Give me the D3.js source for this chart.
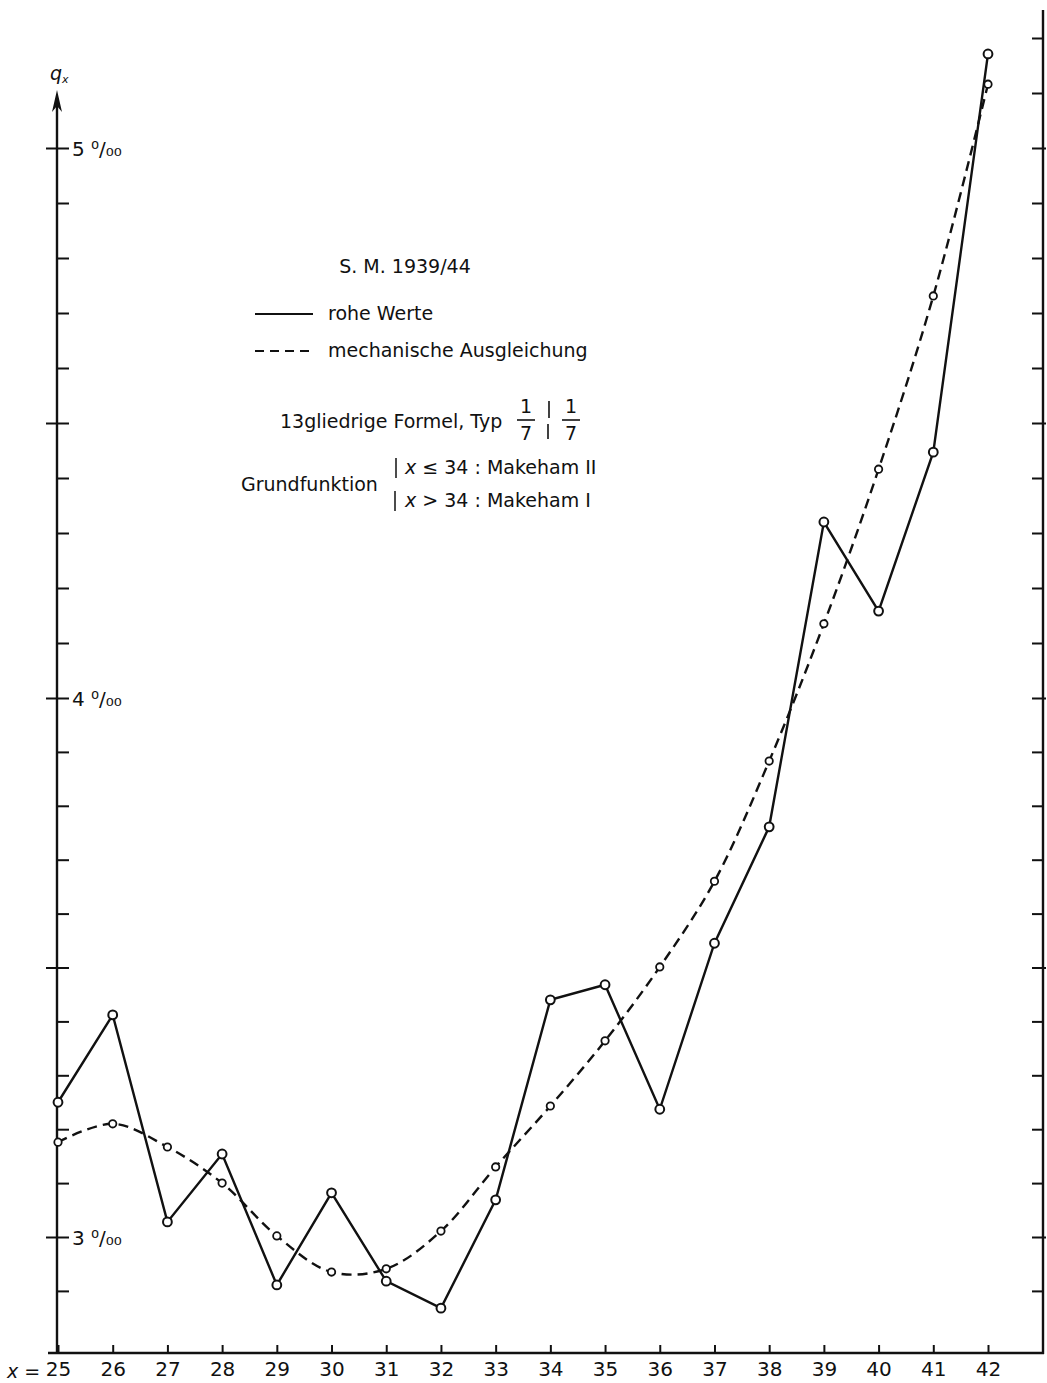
<!DOCTYPE html>
<html>
<head>
<meta charset="utf-8">
<script src="https://cdn.jsdelivr.net/npm/d3@7"></script>
<style>
  body { margin: 0; background: #fff; }
  svg { display: block; }
  text { font-family: "DejaVu Sans", sans-serif; fill: #111; }
  .tick line { stroke: #111; stroke-width: 2; }
</style>
</head>
<body>
<div id="chart"></div>
<script>
// ages x and mortality rates q_x (per mille)
const ages = d3.range(25, 43);
const roheWerte = [3.250, 3.412, 3.028, 3.154, 2.911, 3.082, 2.918, 2.868, 3.069,
                   3.440, 3.468, 3.237, 3.545, 3.761, 4.320, 4.158, 4.447, 5.171];
const ausgleichung = [3.176, 3.210, 3.167, 3.100, 3.002, 2.935, 2.941, 3.011, 3.130,
                      3.243, 3.364, 3.501, 3.660, 3.883, 4.135, 4.416, 4.731, 5.116];
const yLabels = [3, 4, 5];
const leftTicks = d3.range(29, 51).map(d => d / 10);
const rightTicks = d3.range(29, 53).map(d => d / 10);

const W = 1047, H = 1383;
const svg = d3.select("#chart").append("svg")
    .attr("width", W)
    .attr("height", H);

// scales (printed scale is a little uneven, so piecewise)
const x = d3.scaleLinear().domain([25, 42]).range([58, 988]);
const y = d3.scaleLinear().domain([3, 4, 5]).range([1237, 698, 148]);

const axisY0 = 57, axisYR = 1043, axisX0 = 1353;
const isMajor = v => Math.abs(v * 2 - Math.round(v * 2)) < 1e-6;

// frame lines
svg.append("line")
    .attr("x1", axisY0).attr("x2", axisY0)
    .attr("y1", axisX0 + 1).attr("y2", 104)
    .attr("stroke", "#111").attr("stroke-width", 2.4);
svg.append("path")
    .attr("d", `M${axisY0},90 L${axisY0 - 5},112 L${axisY0},106 L${axisY0 + 5},112 Z`)
    .attr("fill", "#111");
svg.append("line")
    .attr("x1", axisYR).attr("x2", axisYR)
    .attr("y1", axisX0 + 1).attr("y2", 10)
    .attr("stroke", "#111").attr("stroke-width", 2.4);
svg.append("line")
    .attr("x1", 48).attr("x2", axisYR + 1)
    .attr("y1", axisX0).attr("y2", axisX0)
    .attr("stroke", "#111").attr("stroke-width", 2.6);

// left axis, ticks pointing inward
const gLeft = svg.append("g")
    .attr("transform", "translate(" + axisY0 + ",0)")
    .call(d3.axisRight(y).tickValues(leftTicks).tickSize(12).tickFormat(""));
gLeft.select(".domain").remove();
gLeft.selectAll(".tick line").filter(isMajor).attr("x1", -11);

// right axis
const gRight = svg.append("g")
    .attr("transform", "translate(" + axisYR + ",0)")
    .call(d3.axisLeft(y).tickValues(rightTicks).tickSize(11).tickFormat(""));
gRight.select(".domain").remove();
gRight.selectAll(".tick line").filter(isMajor).attr("x1", 3);

// bottom axis
const gBottom = svg.append("g")
    .attr("transform", "translate(0," + axisX0 + ")")
    .call(d3.axisBottom(x).tickValues(ages).tickSizeInner(-8).tickSizeOuter(0).tickPadding(9));
gBottom.select(".domain").remove();
gBottom.selectAll(".tick text")
    .style("font-size", "20px")
    .style("font-family", "'DejaVu Sans', sans-serif")
    .attr("fill", "#111");

svg.append("text")
    .attr("x", 7).attr("y", 1378)
    .style("font-size", "19px")
    .html('<tspan font-style="italic">x</tspan> =');

// y labels
svg.selectAll(".ylab")
    .data(yLabels)
    .enter().append("text")
    .attr("class", "ylab")
    .attr("x", axisY0 + 15)
    .attr("y", d => y(d) + 8)
    .style("font-size", "20px")
    .text(d => d + " \u2070/\u2080\u2080");

// q_x label
svg.append("text")
    .attr("x", axisY0 - 7).attr("y", 80)
    .style("font-size", "19px")
    .style("font-style", "italic")
    .html('q<tspan font-size="11px" dy="3">x</tspan>');

// lines
const lineRaw = d3.line()
    .x((d, i) => x(ages[i]))
    .y(d => y(d));
const lineSmooth = d3.line()
    .x((d, i) => x(ages[i]))
    .y(d => y(d))
    .curve(d3.curveCatmullRom.alpha(0.5));

svg.append("path")
    .datum(ausgleichung)
    .attr("fill", "none")
    .attr("stroke", "#111")
    .attr("stroke-width", 2.4)
    .attr("stroke-dasharray", "10,6")
    .attr("d", lineSmooth);

svg.append("path")
    .datum(roheWerte)
    .attr("fill", "none")
    .attr("stroke", "#111")
    .attr("stroke-width", 2.4)
    .attr("d", lineRaw);

svg.selectAll(".dotS")
    .data(ausgleichung)
    .enter().append("circle")
    .attr("class", "dotS")
    .attr("cx", (d, i) => x(ages[i]))
    .attr("cy", d => y(d))
    .attr("r", 3.7)
    .attr("fill", "#fff")
    .attr("stroke", "#111")
    .attr("stroke-width", 1.8);

svg.selectAll(".dotR")
    .data(roheWerte)
    .enter().append("circle")
    .attr("class", "dotR")
    .attr("cx", (d, i) => x(ages[i]))
    .attr("cy", d => y(d))
    .attr("r", 4.4)
    .attr("fill", "#fff")
    .attr("stroke", "#111")
    .attr("stroke-width", 2);

// legend / annotations
const lg = svg.append("g").style("font-size", "19px");
lg.append("text").attr("x", 405).attr("y", 273).attr("text-anchor", "middle").text("S. M. 1939/44");

lg.append("line").attr("x1", 255).attr("x2", 313).attr("y1", 314).attr("y2", 314)
    .attr("stroke", "#111").attr("stroke-width", 2);
lg.append("text").attr("x", 328).attr("y", 320).text("rohe Werte");

lg.append("line").attr("x1", 255).attr("x2", 313).attr("y1", 351).attr("y2", 351)
    .attr("stroke", "#111").attr("stroke-width", 2).attr("stroke-dasharray", "9,6");
lg.append("text").attr("x", 328).attr("y", 357).text("mechanische Ausgleichung");

lg.append("text").attr("x", 280).attr("y", 428).text("13gliedrige Formel, Typ");
[526, 571].forEach(cx => {
    lg.append("text").attr("x", cx).attr("y", 413).attr("text-anchor", "middle").text("1");
    lg.append("text").attr("x", cx).attr("y", 440).attr("text-anchor", "middle").text("7");
    lg.append("line").attr("x1", cx - 9).attr("x2", cx + 9).attr("y1", 420).attr("y2", 420)
        .attr("stroke", "#111").attr("stroke-width", 1.6);
});
lg.append("line").attr("x1", 549).attr("x2", 549).attr("y1", 401).attr("y2", 418)
    .attr("stroke", "#111").attr("stroke-width", 1.6);
lg.append("line").attr("x1", 548).attr("x2", 548).attr("y1", 424).attr("y2", 439)
    .attr("stroke", "#111").attr("stroke-width", 1.6);

lg.append("text").attr("x", 241).attr("y", 491).text("Grundfunktion");
lg.append("line").attr("x1", 396).attr("x2", 396).attr("y1", 458).attr("y2", 478)
    .attr("stroke", "#111").attr("stroke-width", 1.5);
lg.append("line").attr("x1", 395).attr("x2", 395).attr("y1", 491).attr("y2", 511)
    .attr("stroke", "#111").attr("stroke-width", 1.5);
lg.append("text").attr("x", 405).attr("y", 474)
    .html('<tspan font-style="italic">x</tspan> \u2264 34 : Makeham II');
lg.append("text").attr("x", 405).attr("y", 507)
    .html('<tspan font-style="italic">x</tspan> &gt; 34 : Makeham I');
</script>
</body>
</html>
